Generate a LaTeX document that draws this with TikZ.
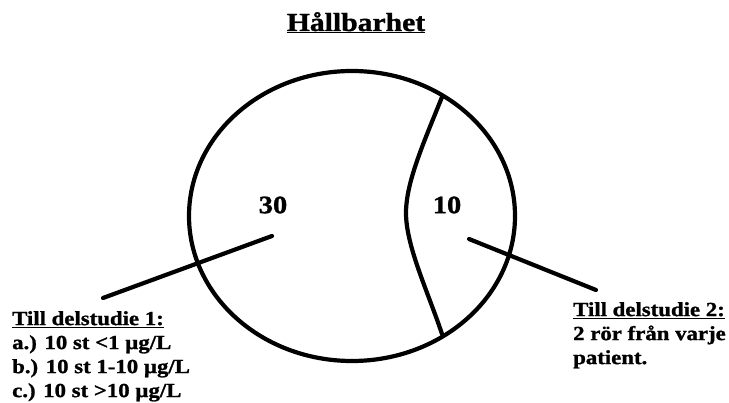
\documentclass[tikz,border=0pt]{standalone}
\usepackage{fontspec}
\newfontfamily\figfont[FakeStretch=1.14, BoldFeatures={FakeBold=1.2}]{Liberation Serif}
\usetikzlibrary{positioning,calc}
\tikzset{
  heavy/.style={line width=4.2pt, line cap=round},
  ttl/.style={font=\figfont\fontsize{26}{30}\selectfont\bfseries, inner sep=0pt},
  num/.style={font=\figfont\fontsize{25}{28}\selectfont\bfseries, inner sep=0pt},
  note/.style={font=\figfont\fontsize{20}{24}\selectfont\bfseries, align=left, inner sep=0pt}
}

\begin{document}
\begin{tikzpicture}[x=1pt, y=-1pt]
  \useasboundingbox (0,0) rectangle (729,403);
  % title
  \node[ttl, anchor=base] (title) at (356,31) {\underline{Hållbarhet}};
  % the whole, split into two parts
  \draw[heavy] (352,216) ellipse [x radius=163, y radius=145];
  \coordinate (cuttop) at (442,97);
  \coordinate (cutmid) at (406,213);
  \coordinate (cutbot) at (442,334);
  \draw[heavy] (cuttop) .. controls (424,142) and (406,182) .. (cutmid)
               .. controls (406,246) and (428,292) .. (cutbot);
  \node[num] (big) at (273,205) {30};
  \node[num] (small) at (447,205) {10};
  % notes for the two studies
  \node[note, anchor=north west] (study1) at (12,311)
    {\underline{Till delstudie 1:}\\ a.) 10 st <1 µg/L\\ b.) 10 st 1-10 µg/L\\ c.) 10 st >10 µg/L};
  \node[note, anchor=north west] (study2) at (573,302)
    {\underline{Till delstudie 2:}\\ 2 rör från varje\\ patient.};
  \coordinate (p1) at (272,236);
  \coordinate (q1) at (103,298);
  \coordinate (p2) at (469,239);
  \coordinate (q2) at (596,290);
  \draw[heavy] (p1) -- (q1);
  \draw[heavy] (p2) -- (q2);
\end{tikzpicture}
\end{document}
